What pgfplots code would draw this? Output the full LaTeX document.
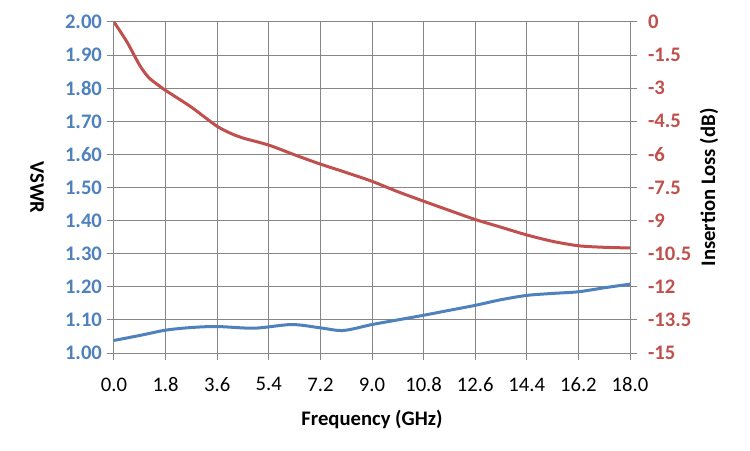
\documentclass[border=0pt]{standalone}
\usepackage{fontspec}
\setmainfont{Carlito}
\usepackage{pgfplots}
\pgfplotsset{compat=1.18}
\definecolor{vblue}{RGB}{79,129,189}
\definecolor{lred}{RGB}{192,80,77}
\definecolor{gridgray}{RGB}{134,134,134}
\newcommand{\tfont}{\fontsize{15.5}{18}\selectfont}
\newcommand{\bfont}{\fontsize{15.5}{18}\selectfont\bfseries}
\begin{document}
\begin{tikzpicture}
\path[use as bounding box] (-85.5pt,-72.75pt) rectangle (477pt,264.75pt);
\begin{axis}[
  at={(0,0)}, anchor=south west,
  scale only axis, width=387pt, height=248.25pt,
  xmin=0, xmax=18, ymin=1, ymax=2,
  xtick={0,1.8,3.6,5.4,7.2,9,10.8,12.6,14.4,16.2,18},
  xticklabels={0.0,1.8,3.6,5.4,7.2,9.0,10.8,12.6,14.4,16.2,18.0},
  ytick={1,1.1,1.2,1.3,1.4,1.5,1.6,1.7,1.8,1.9,2},
  yticklabels={1.00,1.10,1.20,1.30,1.40,1.50,1.60,1.70,1.80,1.90,2.00},
  axis y line*=left, axis x line*=bottom,
  grid=major, major grid style={gridgray, line width=0.75pt},
  axis line style={gridgray, line width=0.75pt, -},
  tick align=outside, major tick length=5.5pt,
  tick style={gridgray, line width=0.75pt},
  xticklabel style={font=\tfont, text=black, yshift=-9.5pt},
  yticklabel style={font=\bfont, text=vblue},
  xlabel={Frequency (GHz)}, ylabel={VSWR},
  label style={font=\bfont, text=black},
  xlabel style={at={(axis description cs:0.5,-0.202)}, anchor=center},
  ylabel style={at={(axis description cs:-0.149,0.5)}, anchor=center, rotate=180},
  clip=true,
]
\addplot[vblue, line width=2.25pt, smooth, no marks] coordinates {
(0,1.038) (0.9,1.053) (1.8,1.069) (2.7,1.077) (3.6,1.080) (4.9,1.075)
(6.2,1.086) (7.2,1.076) (8.0,1.068) (9.0,1.086) (9.9,1.100) (10.8,1.114)
(11.7,1.129) (12.6,1.144) (13.5,1.161) (14.4,1.174) (15.3,1.180)
(16.2,1.185) (17.1,1.197) (18.0,1.208)};
\end{axis}
\begin{axis}[
  at={(0,0)}, anchor=south west,
  scale only axis, width=387pt, height=248.25pt,
  xmin=0, xmax=18, ymin=-15, ymax=0,
  xtick=\empty,
  axis y line*=right, axis x line=none,
  ytick={0,-1.5,-3,-4.5,-6,-7.5,-9,-10.5,-12,-13.5,-15},
  yticklabels={0,-1.5,-3,-4.5,-6,-7.5,-9,-10.5,-12,-13.5,-15},
  axis line style={gridgray, line width=0.75pt, -},
  tick align=outside, major tick length=5.5pt,
  tick style={gridgray, line width=0.75pt},
  yticklabel style={font=\bfont, text=lred, xshift=4.5pt},
  ylabel={Insertion Loss (dB)},
  label style={font=\bfont, text=black},
  ylabel style={at={(axis description cs:1.153,0.5)}, anchor=center},
]
\addplot[lred, line width=2.25pt, smooth, no marks] coordinates {
(0,0) (0.45,-0.9) (0.9,-1.97) (1.2,-2.5) (1.5,-2.82) (1.8,-3.1) (2.7,-3.86) (3.6,-4.73)
(4.2,-5.12) (4.5,-5.26) (5.4,-5.58) (6.3,-6.02) (7.2,-6.44) (8.1,-6.82)
(9.0,-7.22) (9.9,-7.69) (10.8,-8.12) (11.7,-8.54) (12.6,-8.95) (13.5,-9.30)
(14.4,-9.65) (15.3,-9.94) (16.2,-10.14) (17.1,-10.21) (18.0,-10.24)};
\end{axis}
\end{tikzpicture}
\end{document}
